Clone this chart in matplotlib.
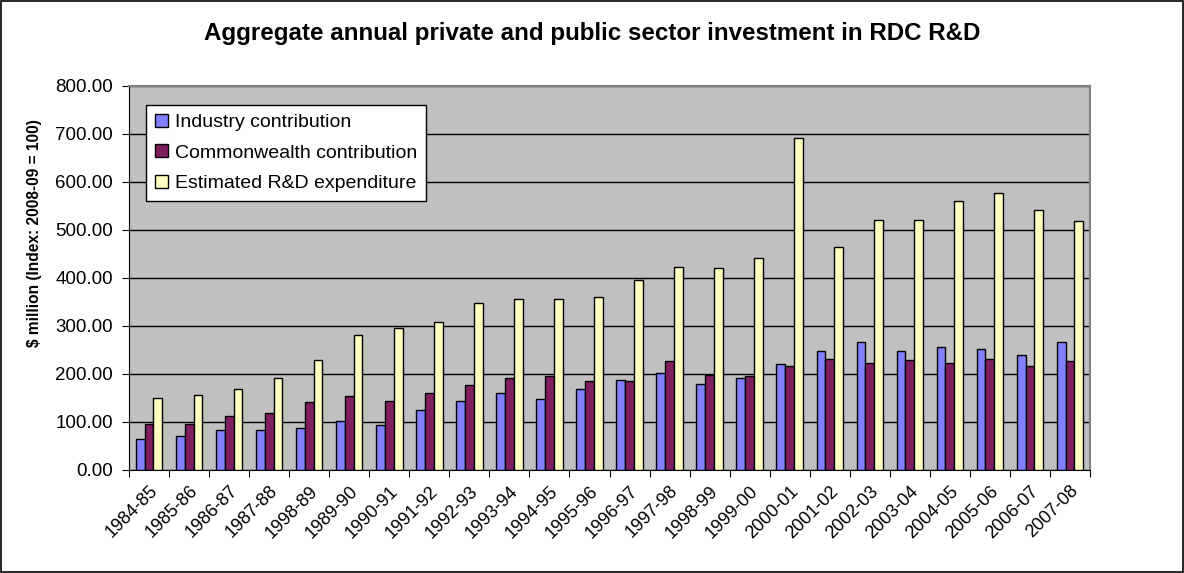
import matplotlib
matplotlib.use("Agg")
import matplotlib.pyplot as plt
import numpy as np
from matplotlib.patches import Rectangle

years = ['1984-85', '1985-86', '1986-87', '1987-88', '1998-89', '1989-90',
         '1990-91', '1991-92', '1992-93', '1993-94', '1994-95', '1995-96',
         '1996-97', '1997-98', '1998-99', '1999-00', '2000-01', '2001-02',
         '2002-03', '2003-04', '2004-05', '2005-06', '2006-07', '2007-08']

industry = [64, 71, 84, 84, 87, 103, 93, 125, 144, 160, 147, 169,
            188, 201, 179, 192, 221, 248, 267, 248, 255, 252, 239, 267]
commonwealth = [96, 96, 112, 119, 141, 153, 144, 160, 176, 191, 195, 185,
                185, 226, 198, 195, 217, 232, 223, 230, 223, 232, 217, 226]
rd_expenditure = [150, 157, 169, 191, 230, 280, 296, 308, 347, 357, 357, 360,
                  395, 423, 420, 442, 691, 464, 521, 521, 560, 576, 541, 519]

plt.rcParams['font.family'] = ['Liberation Sans', 'DejaVu Sans']

fig = plt.figure(figsize=(11.84, 5.73), dpi=100)
ax = fig.add_axes([0.109, 0.1798, 0.8116, 0.6706])

x = np.arange(len(years))
w = 0.22
ax.set_facecolor('#C0C0C0')
ax.bar(x - w, industry, w, color='#8080FF', edgecolor='black', linewidth=1,
       label='Industry contribution', zorder=3)
ax.bar(x, commonwealth, w, color='#801F60', edgecolor='black', linewidth=1,
       label='Commonwealth contribution', zorder=3)
ax.bar(x + w, rd_expenditure, w, color='#FFFFC0', edgecolor='black', linewidth=1,
       label='Estimated R&D expenditure', zorder=3)

ax.set_xlim(-0.5, len(years) - 0.5)
ax.set_ylim(0, 800)
ax.set_yticks(np.arange(0, 801, 100))
ax.set_yticklabels([f'{v:.2f}' for v in np.arange(0, 801, 100)], fontsize=13.5)
ax.yaxis.grid(True, color='black', linewidth=1, zorder=1)
ax.set_axisbelow(True)

# category boundaries carry the tick marks, labels sit in between
ax.set_xticks(np.arange(-0.5, len(years), 1))
ax.set_xticklabels([])
ax.set_xticks(x, minor=True)
ax.set_xticklabels(years, minor=True, rotation=45, ha='right',
                   rotation_mode='anchor', fontsize=13)
ax.tick_params(axis='x', which='minor', length=0, pad=9)
ax.tick_params(axis='x', which='major', length=5, direction='out')
ax.tick_params(axis='y', length=5, direction='out', pad=6.5)

for s in ['top', 'right']:
    ax.spines[s].set_color('#808080')
    ax.spines[s].set_linewidth(1.5)
for s in ['left', 'bottom']:
    ax.spines[s].set_color('black')

fig.text(0.029, 0.593, '$ million (Index: 2008-09 = 100)', fontsize=11.2,
         fontweight='bold', rotation=90, ha='center', va='center')
fig.text(0.5, 0.942,
         'Aggregate annual private and public sector investment in RDC R&D',
         fontsize=17.4, fontweight='bold', ha='center', va='center')

leg = ax.legend(loc='upper left', bbox_to_anchor=(0.018, 0.95), fontsize=14,
                fancybox=False, framealpha=1, edgecolor='black',
                handlelength=0.65, handleheight=0.65, handletextpad=0.35,
                borderpad=0.45, labelspacing=0.68, borderaxespad=0)
leg.get_frame().set_linewidth(1)

fig.patches.append(Rectangle((0.0008, 0.001), 0.998, 0.997, transform=fig.transFigure,
                             fill=False, edgecolor='black', linewidth=1.2))

fig.savefig('out.png', dpi=100)
